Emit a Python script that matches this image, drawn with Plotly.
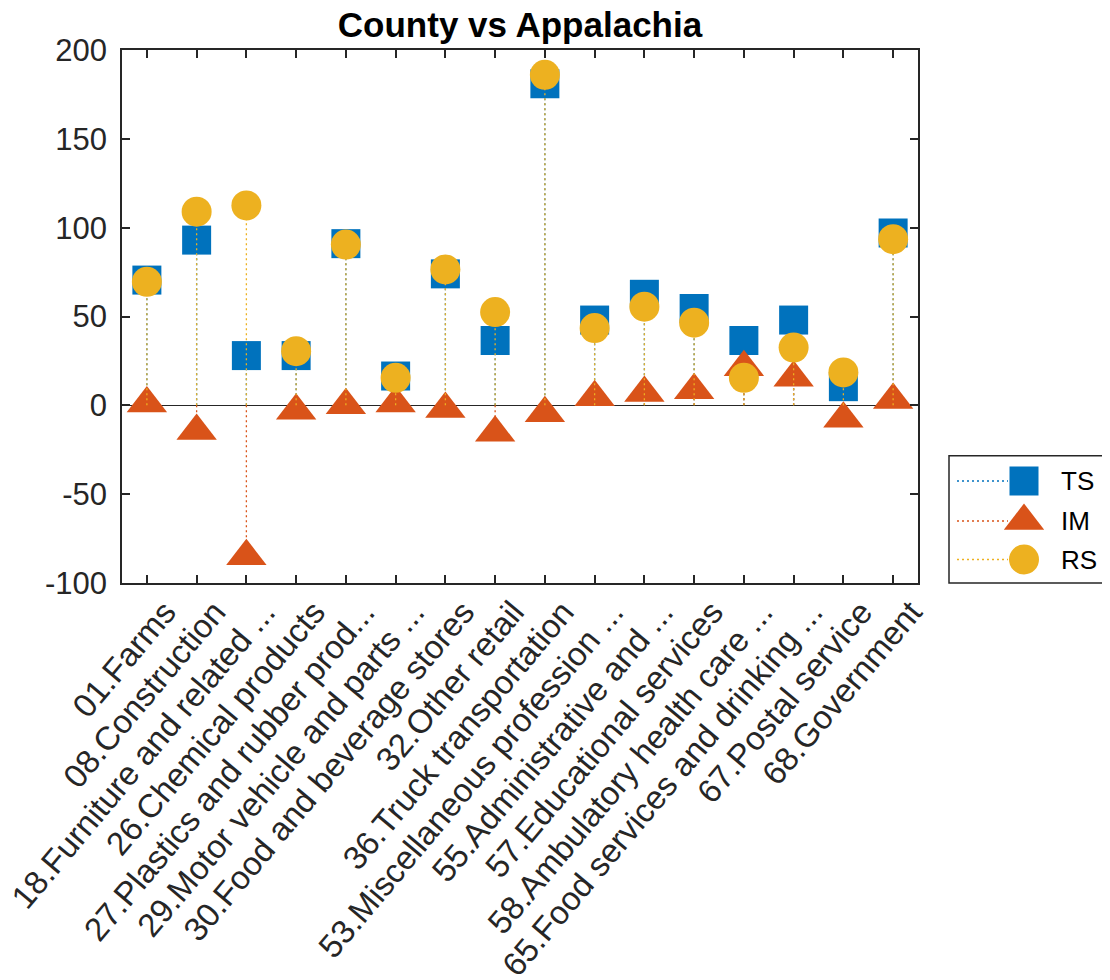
import plotly.graph_objects as go

# data
sectors = ['01.Farms', '08.Construction', '18.Furniture and related ...',
           '26.Chemical products', '27.Plastics and rubber prod...',
           '29.Motor vehicle and parts ...', '30.Food and beverage stores',
           '32.Other retail', '36.Truck transportation',
           '53.Miscellaneous profession ...', '55.Administrative and ...',
           '57.Educational services', '58.Ambulatory health care ...',
           '65.Food services and drinking ...', '67.Postal service',
           '68.Government']
ts = [70.5, 93, 28, 28, 91, 16.5, 74, 36.5, 181, 48, 62.5, 54.5, 36.5, 48, 10.5, 97]
im = [1, -14.5, -85, -3, 0, 1, -2, -15.5, -4.5, 4.5, 7, 8.5, 21.5, 15.5, -7.5, 3]
rs = [69.5, 109, 112.5, 30.5, 90.5, 15.5, 76.5, 52.5, 186, 43.5, 55.5, 46.5, 15.5, 32.5, 18.5, 93.5]
series_names = ['TS', 'IM', 'RS']
y_ticks = [-100, -50, 0, 50, 100, 150, 200]
y_ticktext = ['-100', '-50', '0', '50', '100', '150', '200']

colors = ['#0072BD', '#D95319', '#EDB120']
symbols = ['square', 'triangle-up', 'circle']
sizes = [29, 35, 30]
axis_col = '#262626'
font = 'Liberation Sans, Arial, sans-serif'

x = list(range(1, len(sectors) + 1))

fig = go.Figure()

# stems + markers, one series after the other (RS ends on top)
for name, vals, col, sym, sz in zip(series_names, [ts, im, rs], colors, symbols, sizes):
    sx, sy = [], []
    for xi, v in zip(x, vals):
        sx += [xi, xi, None]
        sy += [0, v, None]
    fig.add_trace(go.Scatter(x=sx, y=sy, mode='lines', showlegend=False,
                             line=dict(color=col, width=1.3, dash='2px,3px'),
                             hoverinfo='skip'))
    fig.add_trace(go.Scatter(x=x, y=vals, mode='markers', name=name, showlegend=False,
                             marker=dict(symbol=sym, size=sz, color=col,
                                         line=dict(width=0))))

# empty trace so the label axis (x3) gets drawn
fig.add_trace(go.Scatter(x=x, y=[None] * len(x), xaxis='x3', yaxis='y',
                         mode='markers', showlegend=False, hoverinfo='skip'))

# hand-made legend (big markers like the original), coords in page pixels
leg_y = [481, 521, 559.5]
for name, col, sym, sz, ly in zip(series_names, colors, symbols, sizes, leg_y):
    fig.add_trace(go.Scatter(x=[957, 1008], y=[ly, ly], mode='lines', xaxis='x2', yaxis='y2',
                             showlegend=False, hoverinfo='skip',
                             line=dict(color=col, width=1.3, dash='2px,3px')))
    fig.add_trace(go.Scatter(x=[1024], y=[ly], mode='markers', xaxis='x2', yaxis='y2',
                             showlegend=False, hoverinfo='skip',
                             marker=dict(symbol=sym, size=sz, color=col, line=dict(width=0))))
    fig.add_annotation(x=1059, y=ly, xref='x2', yref='y2', text=name, showarrow=False,
                       xanchor='left', yanchor='middle',
                       font=dict(family=font, size=26, color='black'))

# page has an 8px body margin, so the figure is 8px smaller and shifted
W = 988.0
H = 533.0
fig.add_shape(type='rect', xref='paper', yref='paper',
              x0=(949 - 122) / W, x1=(1108.5 - 122) / W, y0=0, y1=(583 - 455.7) / H,
              line=dict(color=axis_col, width=1.5), fillcolor='white', layer='below')

shift = 18 / 49.75  # labels sit a bit right of their ticks, as in the original

fig.update_layout(
    width=1102, height=972,
    margin=dict(l=114, r=0, t=42, b=397, autoexpand=False),
    paper_bgcolor='white', plot_bgcolor='white',
    title=dict(text='<b>County vs Appalachia</b>', x=512 / 1102, xanchor='center',
               y=1 - 4 / 972, yanchor='top', yref='container',
               font=dict(family=font, size=35, color='black')),
    xaxis=dict(domain=[0, 796 / W], range=[0.5, 16.5], tickvals=x, showticklabels=False,
               ticks='inside', ticklen=8, tickwidth=1.5, tickcolor=axis_col,
               showline=True, linewidth=1.5, linecolor=axis_col, mirror='ticks',
               showgrid=False, zeroline=False, automargin=False),
    xaxis3=dict(domain=[0, 796 / W], range=[0.5 - shift, 16.5 - shift], overlaying='x',
                anchor='y', side='bottom', tickvals=x, ticktext=sectors, tickangle=-50,
                ticks='', showline=False, showgrid=False, zeroline=False,
                ticklabelstandoff=2, ticklabeloverflow='allow', automargin=False,
                tickfont=dict(family=font, size=33, color=axis_col)),
    yaxis=dict(range=[-100, 200], tickvals=y_ticks, ticktext=y_ticktext,
               ticks='inside', ticklen=8, tickwidth=1.5, tickcolor=axis_col,
               showline=True, linewidth=1.5, linecolor=axis_col, mirror='ticks',
               showgrid=False, zeroline=True, zerolinecolor=axis_col, zerolinewidth=1.3,
               ticklabelstandoff=7, automargin=False,
               tickfont=dict(family=font, size=31, color=axis_col)),
    xaxis2=dict(domain=[(949 - 122) / W, (1109 - 122) / W], range=[949, 1109],
                visible=False, anchor='y2', automargin=False),
    yaxis2=dict(domain=[0, (583 - 455.7) / H], range=[583, 455.7],
                visible=False, anchor='x2', automargin=False),
)

fig.write_html('out.html')
